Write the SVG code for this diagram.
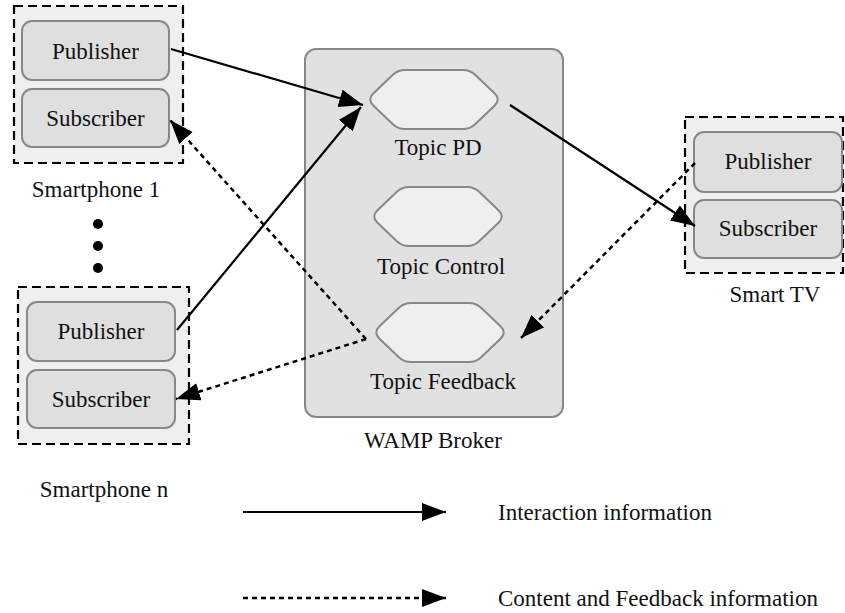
<svg xmlns="http://www.w3.org/2000/svg" xmlns:xlink="http://www.w3.org/1999/xlink" width="845" height="613" viewBox="0 0 845 613" font-family="'Liberation Serif', 'Times New Roman', 'DejaVu Serif', serif">
  <style>
    text { font-family: 'Liberation Serif', 'Times New Roman', 'DejaVu Serif', serif; font-size: 23px; fill: #111; text-anchor: middle; }
    .device { fill: #efefef; stroke: #000; stroke-width: 2.2; stroke-dasharray: 9 5; }
    .client { fill: #dfdfdf; stroke: #888; stroke-width: 2; }
    .broker { fill: #e1e1e1; stroke: #888; stroke-width: 2; }
    .topic { fill: #efefef; stroke: #888; stroke-width: 2; }
    .solid { fill: none; stroke: #000; stroke-width: 2.2; marker-end: url(#head); }
    .dotted { fill: none; stroke: #000; stroke-width: 2.5; stroke-dasharray: 5 4; marker-end: url(#head); }
    .legend { text-anchor: start; }
  </style>
  <defs>
    <marker id="head" markerUnits="userSpaceOnUse" markerWidth="26" markerHeight="20" refX="24" refY="9" orient="auto">
      <path d="M0,0 L24,9 L0,18 Z" fill="#000"/>
    </marker>
    <!-- elongated hexagon with softened corners, centred on the origin -->
    <path id="hex" d="M -60.5,6.2 Q -67,0 -60.5,-6.2 L -41.1,-24.7 Q -36,-29.5 -29,-29.5 L 29,-29.5 Q 36,-29.5 41.1,-24.7 L 60.5,-6.2 Q 67,0 60.5,6.2 L 41.1,24.7 Q 36,29.5 29,29.5 L -29,29.5 Q -36,29.5 -41.1,24.7 Z"/>
  </defs>

  <!-- Smartphone 1 -->
  <g id="smartphone1">
    <rect class="device" x="14" y="6" width="169" height="157"/>
    <rect class="client" x="22" y="21" width="147" height="59" rx="10"/>
    <text x="95.5" y="59">Publisher</text>
    <rect class="client" x="22" y="89" width="147" height="58" rx="10"/>
    <text x="95.5" y="126">Subscriber</text>
    <text x="96" y="197">Smartphone 1</text>
  </g>

  <!-- ellipsis between the phones -->
  <g id="ellipsis" fill="#000">
    <circle cx="98" cy="224" r="5"/>
    <circle cx="98" cy="246" r="5"/>
    <circle cx="98" cy="268" r="5"/>
  </g>

  <!-- Smartphone n -->
  <g id="smartphoneN">
    <rect class="device" x="18" y="287" width="171" height="157"/>
    <rect class="client" x="27" y="302" width="148" height="59" rx="10"/>
    <text x="101" y="339">Publisher</text>
    <rect class="client" x="27" y="370" width="148" height="58" rx="10"/>
    <text x="101" y="407">Subscriber</text>
    <text x="104" y="497">Smartphone n</text>
  </g>

  <!-- WAMP broker with its topics -->
  <g id="broker">
    <rect class="broker" x="305" y="49" width="258" height="368" rx="11"/>
    <text x="433" y="448">WAMP Broker</text>
  </g>
  <g id="topicPD">
    <use xlink:href="#hex" class="topic" x="434" y="99.5"/>
    <text x="438" y="155">Topic PD</text>
  </g>
  <g id="topicControl">
    <use xlink:href="#hex" class="topic" x="438" y="216.5"/>
    <text x="441" y="274">Topic Control</text>
  </g>
  <g id="topicFeedback">
    <use xlink:href="#hex" class="topic" x="440" y="332.5"/>
    <text x="443" y="389">Topic Feedback</text>
  </g>

  <!-- Smart TV -->
  <g id="smartTV">
    <rect class="device" x="685" y="117" width="158" height="156"/>
    <rect class="client" x="694" y="132" width="148" height="60" rx="10"/>
    <text x="768" y="169">Publisher</text>
    <rect class="client" x="694" y="200" width="148" height="58" rx="10"/>
    <text x="768" y="236">Subscriber</text>
    <text x="775" y="302">Smart TV</text>
  </g>

  <!-- connectors -->
  <g id="connectors">
    <line class="solid" x1="171" y1="49" x2="363" y2="105"/>
    <line class="solid" x1="177" y1="330" x2="361" y2="107"/>
    <line class="solid" x1="510" y1="105" x2="695" y2="226"/>
    <polyline class="dotted" points="366,339 170,120"/>
    <polyline class="dotted" points="366,339 176,399"/>
    <line class="dotted" x1="695" y1="163" x2="521" y2="338"/>
  </g>

  <!-- legend -->
  <g id="legend">
    <line class="solid" x1="243" y1="512" x2="446" y2="512"/>
    <text class="legend" x="498" y="520">Interaction information</text>
    <line class="dotted" x1="243" y1="598" x2="446" y2="598"/>
    <text class="legend" x="498" y="606">Content and Feedback information</text>
  </g>
</svg>
